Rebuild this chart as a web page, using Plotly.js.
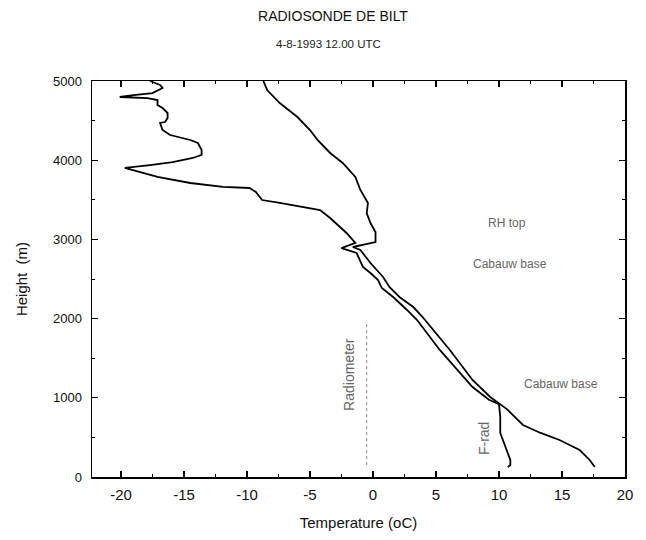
<!DOCTYPE html>
<html>
<head>
<meta charset="utf-8">
<script src="https://cdn.plot.ly/plotly-3.0.1.min.js"></script>
<style>html,body{margin:0;padding:0;background:#fff;}#chart{width:646px;height:540px;}</style>
</head>
<body>
<div id="chart"></div>
<script>
// Temperature profile (oC) vs height (m)
const tempT = [17.6, 17.2, 16.4, 14.8, 13.3, 11.9, 10.6, 9.3, 7.9, 6.1, 4.0, 3.2, 2.1, 1.3, 0.8, 0.3, -0.2, -1.0, -1.6, 0.2, 0.2, -0.2, -0.5, -0.4, -1.0, -1.4, -2.4, -3.4, -4.4, -5.0, -6.0, -7.4, -8.4, -8.7];
const tempH = [126, 215, 341, 467, 556, 657, 860, 1010, 1225, 1604, 2008, 2146, 2273, 2399, 2525, 2614, 2702, 2866, 2904, 2967, 3093, 3207, 3333, 3460, 3624, 3788, 3965, 4091, 4255, 4381, 4545, 4722, 4886, 5000];
// Dew point profile (oC) vs height (m)
const dewT = [10.7, 10.9, 10.9, 10.5, 10.1, 10.1, 10.0, 9.2, 7.9, 5.3, 3.5, 2.7, 1.6, 0.7, 0.4, -0.2, -0.8, -1.3, -2.5, -1.4, -2.1, -3.4, -4.2, -7.4, -8.8, -9.3, -9.8, -11.9, -14.5, -17.1, -19.7, -17.7, -15.9, -14.3, -13.6, -13.6, -13.9, -14.5, -16.1, -16.7, -16.9, -16.5, -16.3, -16.3, -16.7, -17.1, -17.1, -17.9, -20.1, -19.0, -17.5, -16.7, -16.9, -17.5, -17.7];
const dewH = [126, 152, 215, 379, 556, 758, 920, 975, 1136, 1604, 1982, 2109, 2273, 2386, 2487, 2576, 2652, 2828, 2891, 2955, 3081, 3270, 3371, 3460, 3497, 3598, 3649, 3662, 3712, 3788, 3902, 3939, 3977, 4028, 4066, 4129, 4217, 4255, 4318, 4381, 4470, 4482, 4533, 4596, 4659, 4697, 4760, 4785, 4798, 4823, 4848, 4912, 4950, 4987, 5000];
// Radiometer reading (dotted vertical)
const radT = [-0.5, -0.5];
const radH = [150, 1960];

const xTickVals = [-20, -15, -10, -5, 0, 5, 10, 15, 20];
const xTickText = ['-20', '-15', '-10', '-5', '0', '5', '10', '15', '20'];
const yTickVals = [0, 1000, 2000, 3000, 4000, 5000];
const yTickText = ['0', '1000', '2000', '3000', '4000', '5000'];

const labelText = ['RH top', 'Cabauw base', 'Cabauw base'];
const labelT = [10.6, 10.9, 14.9];
const labelH = [3207, 2690, 1174];
const vLabelText = ['Radiometer', 'F-rad'];
const vLabelT = [-1.9, 8.8];
const vLabelH = [1290, 490];

const FONT = 'Liberation Sans, Arial, sans-serif';

const traces = [
  {x: tempT, y: tempH, mode: 'lines', line: {color: '#000', width: 1.8}, hoverinfo: 'skip'},
  {x: dewT, y: dewH, mode: 'lines', line: {color: '#000', width: 1.8}, hoverinfo: 'skip'},
  {x: radT, y: radH, mode: 'lines', line: {color: '#888', width: 1, dash: 'dot'}, hoverinfo: 'skip'}
];

const plotL = 92, plotR = 625, plotTop = 81, plotBot = 477;
const annotations = [];
labelText.forEach((t, i) => annotations.push({
  x: labelT[i], y: labelH[i], xref: 'x', yref: 'y', text: t, showarrow: false,
  font: {family: FONT, size: 12, color: '#666'}
}));
vLabelText.forEach((t, i) => annotations.push({
  x: vLabelT[i], y: vLabelH[i], xref: 'x', yref: 'y', text: t, showarrow: false, textangle: -90,
  font: {family: FONT, size: 14, color: '#666'}
}));
annotations.push({
  x: (328 - plotL) / (plotR - plotL), y: (plotBot - 44) / (plotBot - plotTop),
  xref: 'paper', yref: 'paper', text: '4-8-1993 12.00 UTC',
  showarrow: false, yanchor: 'middle', xanchor: 'center',
  font: {family: FONT, size: 11.5, color: '#222'}
});

const axisCommon = {
  showgrid: false, zeroline: false, showline: true, linecolor: '#000', linewidth: 1.5,
  mirror: 'ticks', ticks: 'inside', ticklen: 6, tickwidth: 1.3, tickcolor: '#000'
};

const layout = {
  width: 646, height: 540,
  margin: {l: plotL, r: 646 - plotR, t: plotTop, b: 540 - plotBot},
  paper_bgcolor: '#fff', plot_bgcolor: '#fff',
  showlegend: false,
  title: {text: 'RADIOSONDE DE BILT', x: 333/646, xanchor: 'center', y: 1 - 16/540, yanchor: 'middle',
          font: {family: FONT, size: 14, color: '#111'}},
  xaxis: Object.assign({}, axisCommon, {
    range: [-22.3, 20], tickmode: 'array', tickvals: xTickVals, ticktext: xTickText,
    tickfont: {family: FONT, size: 15, color: '#111'},
    minor: {dtick: 2.5, tick0: 0, ticks: 'inside', ticklen: 3, tickcolor: '#000', tickwidth: 1},
    ticklabelstandoff: 3,
    title: {text: 'Temperature (oC)', standoff: 16, font: {family: FONT, size: 15, color: '#111'}}
  }),
  yaxis: Object.assign({}, axisCommon, {
    range: [0, 5000], tickmode: 'array', tickvals: yTickVals, ticktext: yTickText,
    tickfont: {family: FONT, size: 13, color: '#111'},
    minor: {dtick: 500, tick0: 0, ticks: 'inside', ticklen: 3, tickcolor: '#000', tickwidth: 1},
    ticklabelstandoff: 6,
    title: {text: 'Height  (m)', standoff: 21, font: {family: FONT, size: 15, color: '#111'}}
  }),
  annotations: annotations
};

Plotly.newPlot('chart', traces, layout, {staticPlot: true, displayModeBar: false});
</script>
</body>
</html>
